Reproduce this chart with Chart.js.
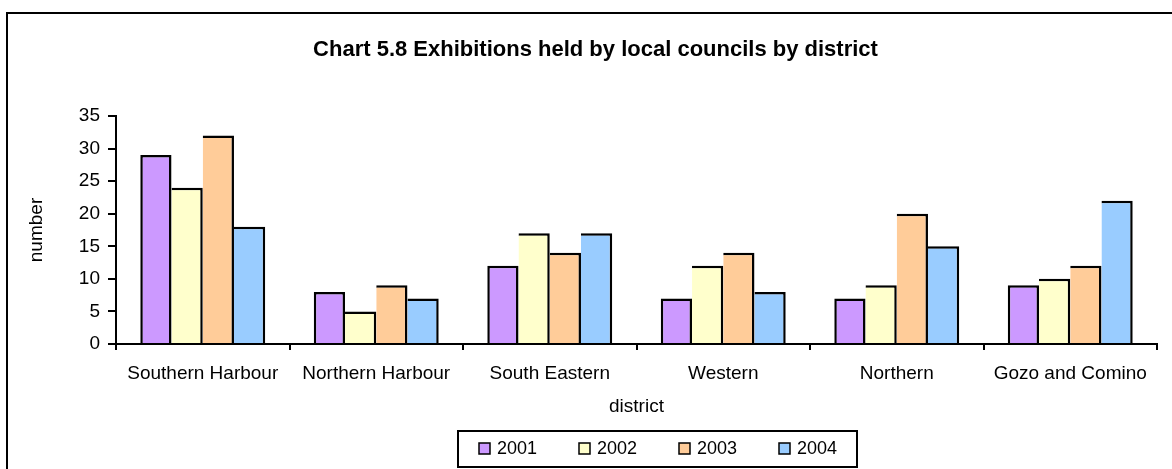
<!DOCTYPE html>
<html>
<head>
<meta charset="utf-8">
<script src="https://cdn.jsdelivr.net/npm/chart.js@4.4.1/dist/chart.umd.min.js"></script>
<style>
  html, body { margin: 0; padding: 0; background: #fff; }
  #wrap { width: 1172px; height: 469px; }
</style>
</head>
<body>
<div id="wrap"><canvas id="grafica" width="1172" height="469"></canvas></div>
<script>
const districts = ['Southern Harbour', 'Northern Harbour', 'South Eastern', 'Western', 'Northern', 'Gozo and Comino'];
const years = ['2001', '2002', '2003', '2004'];
const values2001 = [29, 8, 12, 7, 7, 9];
const values2002 = [24, 5, 17, 12, 9, 10];
const values2003 = [32, 9, 14, 14, 20, 12];
const values2004 = [18, 7, 17, 8, 15, 22];
const yTickStep = 5;
const yMax = 35;

const colores = ['#CC99FF', '#FFFFCC', '#FFCC99', '#99CCFF'];
const series = [values2001, values2002, values2003, values2004];
const fuente = '"Liberation Sans", Arial, sans-serif';

// marco, titulo y leyenda dibujados a mano
const extras = {
  id: 'extras',
  afterDraw(chart) {
    const ctx = chart.ctx;
    ctx.save();
    ctx.fillStyle = '#000';
    ctx.fillRect(6, 12, 1166, 2);
    ctx.fillRect(6, 12, 2, 457);

    ctx.font = 'bold 22px ' + fuente;
    ctx.textAlign = 'center';
    ctx.textBaseline = 'middle';
    ctx.fillText('Chart 5.8 Exhibitions held by local councils by district', 595.5, 50);

    ctx.lineWidth = 2;
    ctx.strokeStyle = '#000';
    ctx.strokeRect(458, 431, 399, 36);
    ctx.font = '18px ' + fuente;
    ctx.textAlign = 'left';
    chart.data.datasets.forEach((ds, i) => {
      const x = 479 + i * 100;
      ctx.fillStyle = ds.backgroundColor;
      ctx.fillRect(x, 443, 11, 11);
      ctx.lineWidth = 1.5;
      ctx.strokeRect(x, 443, 11, 11);
      ctx.fillStyle = '#000';
      ctx.fillText(ds.label, x + 18, 449);
    });
    ctx.restore();
  }
};

new Chart(document.getElementById('grafica'), {
  type: 'bar',
  data: {
    labels: districts,
    datasets: years.map((y, i) => ({
      label: y,
      data: series[i],
      backgroundColor: colores[i],
      borderColor: '#000',
      // borde compartido entre barras vecinas
      borderWidth: { top: 2.5, right: 2.5, bottom: 0, left: i === 0 ? 2.5 : 0 },
      borderSkipped: false,
      barPercentage: 1,
      categoryPercentage: 0.72
    }))
  },
  options: {
    responsive: false,
    animation: false,
    devicePixelRatio: 1,
    layout: { padding: { top: 116, right: 15, bottom: 49, left: 0 } },
    plugins: {
      legend: { display: false },
      title: { display: false },
      tooltip: { enabled: false }
    },
    scales: {
      y: {
        min: 0,
        max: yMax,
        afterFit: s => { s.width = 116; },
        ticks: { stepSize: yTickStep, color: '#000', font: { size: 19, family: fuente }, padding: 8 },
        grid: { drawOnChartArea: false, color: '#000', lineWidth: 2, tickLength: 8 },
        border: { color: '#000', width: 2 },
        title: { display: true, text: 'number', color: '#000', font: { size: 19, family: fuente }, padding: { top: 25, bottom: 0 } }
      },
      x: {
        afterFit: s => { s.height = 76; },
        ticks: { color: '#000', font: { size: 19, family: fuente }, padding: 12, maxRotation: 0 },
        grid: { drawOnChartArea: false, color: '#000', lineWidth: 2, tickLength: 6, offset: true },
        border: { color: '#000', width: 2 },
        title: { display: true, text: 'district', color: '#000', font: { size: 19, family: fuente }, padding: { top: 0, bottom: 2 } }
      }
    }
  },
  plugins: [extras]
});
</script>
</body>
</html>
